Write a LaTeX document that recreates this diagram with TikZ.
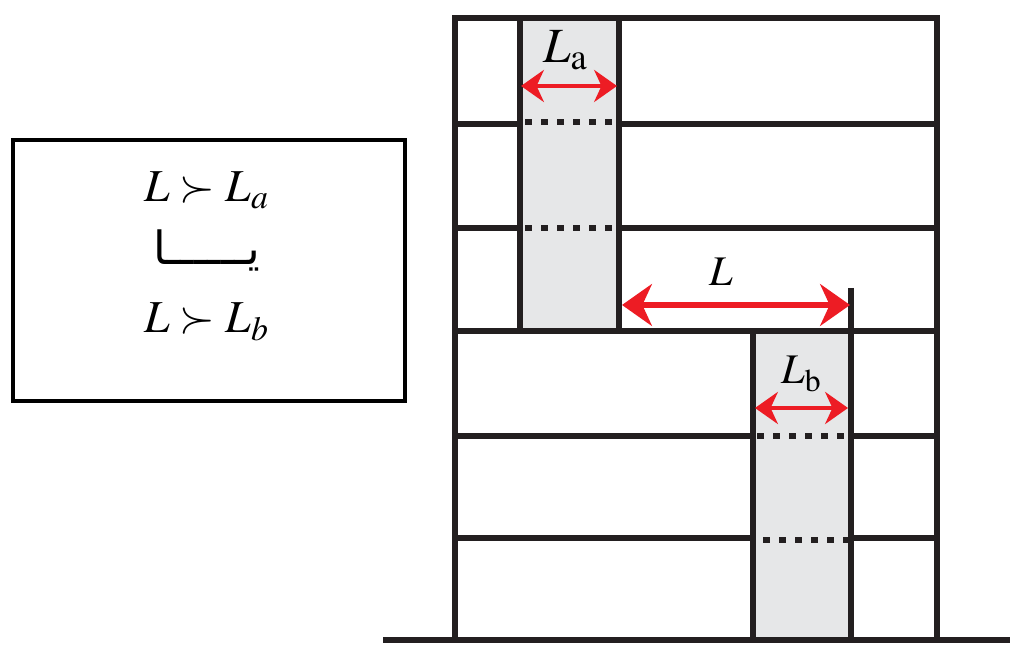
\documentclass[tikz,border=0pt]{standalone}
\usepackage{mathptmx}
\usepackage{fontspec}
\newfontfamily\arabicfont[Script=Arabic]{DejaVu Sans}
\TeXXeTstate=1
\usetikzlibrary{arrows.meta}
\pgfdeclarelayer{nodelayer}
\pgfdeclarelayer{edgelayer}
\pgfsetlayers{edgelayer,main,nodelayer}
\definecolor{dimred}{HTML}{ED1C24}
\definecolor{colgray}{HTML}{E6E7E8}
\definecolor{wallblack}{HTML}{231F20}
\tikzstyle{none}=[inner sep=0pt]
\tikzstyle{label}=[inner sep=1pt, font=\fontsize{11}{13}\selectfont]
\tikzstyle{legend}=[inner sep=1pt, font=\fontsize{13}{15}\selectfont]
\tikzset{wall/.style={draw=wallblack, line width=1.95pt}}
\tikzset{holes/.style={draw=wallblack, line width=0.065cm, dash pattern=on 0.065cm off 0.095cm}}
\tikzset{dim/.style={draw=dimred, line width=#1,
  arrows={Stealth[length=#1*5, width=#1*7, inset=#1*1.6]-Stealth[length=#1*5, width=#1*7, inset=#1*1.6]}}}
\begin{document}
\begin{tikzpicture}[x=0.01cm, y=-0.01cm]
    \useasboundingbox (0,0) rectangle (1024,659);
    \begin{pgfonlayer}{nodelayer}
        % frame and ground
        \node [style=none] (0) at (455, 18) {};
        \node [style=none] (1) at (937, 18) {};
        \node [style=none] (2) at (455, 640) {};
        \node [style=none] (3) at (937, 640) {};
        \node [style=none] (4) at (383, 640) {};
        \node [style=none] (5) at (1010, 640) {};
        % upper column
        \node [style=none] (6) at (520, 18) {};
        \node [style=none] (7) at (619, 18) {};
        \node [style=none] (8) at (520, 331) {};
        \node [style=none] (9) at (619, 331) {};
        % floors
        \node [style=none] (10) at (455, 124) {};
        \node [style=none] (11) at (520, 124) {};
        \node [style=none] (12) at (619, 124) {};
        \node [style=none] (13) at (937, 124) {};
        \node [style=none] (14) at (455, 228) {};
        \node [style=none] (15) at (520, 228) {};
        \node [style=none] (16) at (619, 228) {};
        \node [style=none] (17) at (937, 228) {};
        \node [style=none] (18) at (455, 331) {};
        \node [style=none] (19) at (937, 331) {};
        % lower column
        \node [style=none] (20) at (753, 331) {};
        \node [style=none] (21) at (851, 331) {};
        \node [style=none] (22) at (753, 640) {};
        \node [style=none] (23) at (851, 640) {};
        \node [style=none] (24) at (458, 436) {};
        \node [style=none] (25) at (753, 436) {};
        \node [style=none] (26) at (851, 436) {};
        \node [style=none] (27) at (937, 436) {};
        \node [style=none] (28) at (455, 538) {};
        \node [style=none] (29) at (753, 538) {};
        \node [style=none] (30) at (851, 538) {};
        \node [style=none] (31) at (937, 538) {};
        \node [style=none] (32) at (851, 288) {};
        % dotted openings
        \node [style=none] (33) at (525, 122) {};
        \node [style=none] (34) at (619, 122) {};
        \node [style=none] (35) at (525, 228) {};
        \node [style=none] (36) at (614, 228) {};
        \node [style=none] (37) at (757, 436) {};
        \node [style=none] (38) at (851, 436) {};
        \node [style=none] (39) at (763, 540) {};
        \node [style=none] (40) at (851, 540) {};
        % dimensions
        \node [style=none] (41) at (521, 86) {};
        \node [style=none] (42) at (617, 86) {};
        \node [style=none] (43) at (622, 305) {};
        \node [style=none] (44) at (850, 305) {};
        \node [style=none] (45) at (755, 408) {};
        \node [style=none] (46) at (848, 408) {};
        \node [style=label, font=\fontsize{14}{16}\selectfont] (47) at (566, 50) {$L_{\mathrm{a}}$};
        \node [style=label, font=\fontsize{12}{14}\selectfont] (48) at (721, 272) {$L$};
        \node [style=label, font=\fontsize{12}{14}\selectfont] (49) at (802, 374) {$L_{\mathrm{b}}$};
        % legend box
        \node [style=none] (50) at (13, 140) {};
        \node [style=none] (51) at (405, 401) {};
        \node [style=legend] (52) at (207, 190) {$L \succ L_a$};
        \node [style=legend] (53) at (207, 250) {\arabicfont\beginR یــــــا\endR};
        \node [style=legend] (54) at (207, 322) {$L \succ L_b$};
    \end{pgfonlayer}
    \begin{pgfonlayer}{edgelayer}
        \fill [colgray] (6.center) rectangle (9.center);
        \fill [colgray] (20.center) rectangle (23.center);
        \draw [line width=0.9pt] (50.center) rectangle (51.center);
    \end{pgfonlayer}
    \draw [style=wall] (2.center) to (0.center) to (1.center) to (3.center);
    \draw [style=wall] (4.center) to (5.center);
    \draw [style=wall] (6.center) to (8.center);
    \draw [style=wall] (7.center) to (9.center);
    \draw [style=wall] (10.center) to (11.center);
    \draw [style=wall] (12.center) to (13.center);
    \draw [style=wall] (14.center) to (15.center);
    \draw [style=wall] (16.center) to (17.center);
    \draw [style=wall] (18.center) to (19.center);
    \draw [style=wall] (20.center) to (22.center);
    \draw [style=wall] (32.center) to (23.center);
    \draw [style=wall] (24.center) to (25.center);
    \draw [style=wall] (26.center) to (27.center);
    \draw [style=wall] (28.center) to (29.center);
    \draw [style=wall] (30.center) to (31.center);
    \draw [style=holes] (33.center) to (34.center);
    \draw [style=holes] (35.center) to (36.center);
    \draw [style=holes] (37.center) to (38.center);
    \draw [style=holes] (39.center) to (40.center);
    \draw [style={dim=1.3pt}] (41.center) to (42.center);
    \draw [style={dim=1.7pt}] (43.center) to (44.center);
    \draw [style={dim=1.3pt}] (45.center) to (46.center);
\end{tikzpicture}
\end{document}
